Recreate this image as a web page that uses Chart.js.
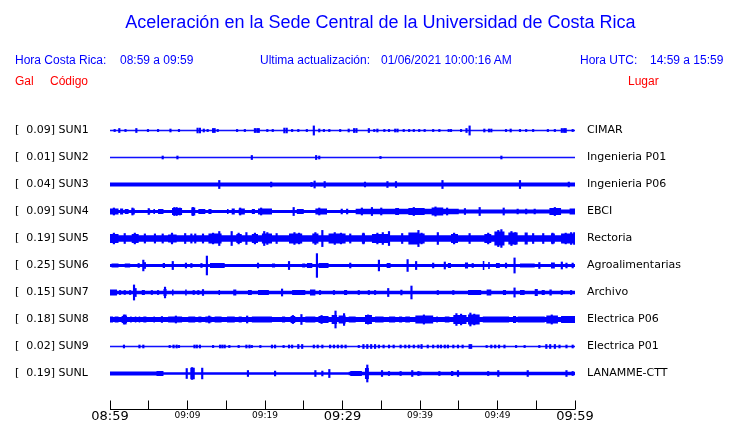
<!DOCTYPE html>
<html><head><meta charset="utf-8">
<script src="https://cdn.jsdelivr.net/npm/chart.js@4"></script>
<style>
html,body{margin:0;padding:0;background:#fff;}
#wrap{position:relative;width:740px;height:423px;overflow:hidden;background:#fff;}
#c{position:absolute;left:0;top:0;}
.t{position:absolute;font-family:"Liberation Sans",Arial,sans-serif;font-size:12px;line-height:14px;white-space:pre;color:#0000ff;}
.r{color:#ff0000;}
#title{font-size:18px;line-height:20px;left:0;width:761px;text-align:center;top:12px;}
</style></head>
<body><div id="wrap"><canvas id="c" width="740" height="423"></canvas>
<div class="t" id="title">Aceleración en la Sede Central de la Universidad de Costa Rica</div>
<div class="t" style="left:15px;top:53px">Hora Costa Rica:</div>
<div class="t" style="left:120px;top:53px">08:59 a 09:59</div>
<div class="t" style="left:260px;top:53px">Ultima actualización:</div>
<div class="t" style="left:381px;top:53px">01/06/2021 10:00:16 AM</div>
<div class="t" style="left:580px;top:53px">Hora UTC:</div>
<div class="t" style="left:650px;top:53px">14:59 a 15:59</div>
<div class="t r" style="left:15px;top:74px">Gal</div>
<div class="t r" style="left:50px;top:74px">Código</div>
<div class="t r" style="left:628px;top:74px">Lugar</div>
</div>
<script>
// ---- data (minutes after 08:59; amplitudes in trace-row units) ----
const codes  = ['SUN1','SUN2','SUN3','SUN4','SUN5','SUN6','SUN7','SUN8','SUN9','SUNL'];
const peaks  = [0.09, 0.01, 0.04, 0.09, 0.19, 0.25, 0.15, 0.18, 0.02, 0.19];
const places = ['CIMAR','Ingenieria P01','Ingenieria P06','EBCI','Rectoria','Agroalimentarias','Archivo','Electrica P06','Electrica P01','LANAMME-CTT'];
const tickLabels = ['08:59','','09:09','','09:19','','09:29','','09:39','','09:49','','09:59'];
const baseAmp = [0.025, 0.025, 0.07, 0.056, 0.12, 0.055, 0.063, 0.094, 0.025, 0.045];

const segsSUN1 = [];
const segsSUN2 = [];
const segsSUN3 = [];
const segsSUN4 = [[0,1.1,.11],[1.3,1.7,.11],[1.9,2.4,.09],[2.8,3.2,.11],[4.9,5.2,.075],[5.6,5.8,.09],[6.2,6.9,.09],[8.0,9.3,.13],[10.5,11.0,.15],[11.4,12.3,.09],[12.7,13.1,.09],[15.1,15.3,.09],[15.7,16.1,.11],[16.6,17.4,.11],[18.3,18.7,.09],[19.1,20.9,.11],[24.1,25.0,.09],[26.5,28.0,.11],[31.7,45,.1],[36.8,37.3,.13],[38.5,40.6,.13],[41.5,43.0,.15],[45,60,.075],[56.7,58.2,.13],[59.3,60,.11]];
const segsSUN5 = [[0,1.1,.17],[2.8,3.7,.17],[7.5,8.6,.15],[12.7,14.4,.185],[16.3,17.0,.17],[18.3,19.1,.17],[19.6,20.9,.185],[23.1,24.8,.185],[26.1,26.9,.185],[28.2,30.4,.185],[32.5,32.9,.185],[33.8,36.0,.17],[38.5,39.8,.22],[39.7,40.6,.185],[44.0,44.9,.17],[48.3,49.2,.17],[49.6,50.9,.26],[51.4,52.6,.22],[53.5,53.9,.22],[56.9,57.4,.185],[58.2,60,.185]];
const segsSUN6 = [[0.2,1.1,.075],[1.9,2.6,.075],[6.8,7.1,.09],[12.9,14.8,.09],[20.9,21.3,.075],[24.8,25.2,.075],[25.4,26.1,.09],[26.9,28.2,.09],[35.7,36.2,.09],[43.6,44.0,.09],[45.8,46.2,.11],[48.1,48.3,.17],[48.8,49.0,.13],[49.8,50.3,.09],[52.9,54.8,.075],[56.9,57.4,.11]];
const segsSUN7 = [[0,0.9,.11],[4.1,4.5,.09],[6.9,7.3,.13],[8.0,8.2,.11],[9.7,9.9,.11],[14.0,14.2,.09],[15.9,16.3,.11],[17.8,18.3,.09],[19.1,20.5,.09],[23.5,25.2,.09],[25.8,26.5,.11],[30.2,30.6,.09],[46.2,47.9,.09],[48.6,49.2,.11],[50.7,51.1,.09],[52.9,53.5,.09],[54.8,55.2,.13],[55.7,56.1,.09],[56.7,57.0,.11]];
const segsSUN8 = [[0,0.4,.11],[0.6,1.1,.11],[1.5,2.2,.13],[2.6,2.8,.11],[3.2,3.4,.11],[3.7,3.9,.11],[4.3,4.7,.11],[5.6,5.8,.11],[7.5,9.3,.11],[10.1,11.0,.11],[11.4,11.8,.11],[12.3,13.1,.11],[13.5,14.4,.11],[15.1,16.1,.11],[16.6,17.0,.11],[17.6,17.8,.13],[18.3,20.9,.11],[22.2,22.6,.11],[23.3,23.9,.13],[25.2,26.5,.11],[26.9,28.2,.13],[28.6,29.3,.17],[29.5,30.4,.15],[30.8,31.7,.11],[32.9,33.8,.17],[34.2,35.3,.11],[36.0,36.8,.11],[37.3,37.7,.11],[38.1,38.7,.11],[39.4,41.7,.15],[42.1,42.3,.11],[43.2,43.8,.11],[44.3,46.0,.17],[46.2,47.7,.185],[48.1,51.5,.11],[52.0,52.4,.13],[52.6,56.1,.11],[56.3,57.8,.15],[58.2,60,.13]];
const segsSUN9 = [];
const segsSUNL = [[0,6.0,.075],[6.0,6.9,.09],[30.8,60,.065],[31.0,32.5,.09],[32.9,33.4,.2],[39.7,40.2,.075],[44.0,44.3,.09]];

const spikesSUN1 = [[0.6,.04],[1.2,.075],[2.0,.04],[3.4,.075],[4.9,.04],[6.2,.04],[7.8,.055],[8.9,.04],[11.3,.09],[11.6,.09],[12.1,.055],[12.6,.04],[13.3,.075],[13.5,.075],[13.9,.04],[16.4,.04],[17.4,.04],[18.7,.075],[19.0,.075],[19.2,.075],[20.3,.04],[21.0,.04],[22.5,.09],[22.8,.09],[23.5,.04],[24.3,.04],[25.4,.04],[26.3,.17],[27.0,.055],[27.6,.04],[28.3,.04],[29.7,.04],[30.8,.055],[31.5,.075],[31.8,.075],[33.4,.075],[34.1,.04],[34.5,.055],[35.4,.04],[36.0,.04],[36.8,.055],[37.1,.055],[37.9,.04],[38.6,.04],[39.2,.04],[39.9,.04],[40.6,.04],[41.7,.04],[42.5,.04],[43.7,.04],[44.0,.04],[45.3,.04],[46.0,.075],[46.4,.17],[48.3,.055],[48.9,.055],[49.2,.055],[51.1,.04],[51.7,.055],[52.9,.04],[53.7,.04],[54.6,.04],[56.5,.04],[57.4,.04],[58.3,.075],[58.6,.075],[58.8,.075],[59.7,.04]];
const spikesSUN2 = [[6.8,.055],[8.7,.055],[18.3,.075],[26.6,.075],[27.0,.055],[34.9,.04],[50.5,.055]];
const spikesSUN3 = [[14.1,.15],[20.8,.09],[26.0,.075],[26.4,.13],[27.7,.11],[32.9,.09],[35.8,.11],[36.9,.11],[42.9,.15],[52.9,.15],[59.2,.09]];
const spikesSUN4 = [[0.5,.13],[2.9,.13],[5.0,.11],[8.3,.15],[8.6,.15],[9.0,.13],[10.7,.15],[16.8,.13],[19.5,.13],[23.7,.15],[27.0,.13],[29.9,.09],[30.6,.09],[32.5,.13],[33.8,.15],[35.0,.13],[39.2,.15],[42.0,.17],[43.5,.13],[45.8,.11],[47.7,.15],[50.8,.13],[52.6,.09],[53.7,.09],[54.8,.09],[57.4,.15]];
const spikesSUN5 = [[0.5,.2],[1.9,.185],[3.2,.2],[4.5,.17],[5.8,.17],[6.8,.17],[8.0,.2],[9.7,.185],[10.5,.17],[11.0,.17],[12.0,.17],[13.3,.2],[14.1,.26],[15.7,.26],[16.6,.2],[17.6,.22],[18.7,.2],[19.9,.26],[20.3,.22],[21.5,.185],[23.8,.22],[24.4,.2],[26.5,.22],[27.4,.3],[29.0,.22],[29.8,.2],[31.0,.17],[32.7,.2],[34.5,.2],[35.2,.22],[36.0,.26],[37.7,.185],[39.8,.3],[40.2,.2],[42.3,.22],[44.4,.2],[46.4,.185],[48.8,.2],[50.1,.3],[50.5,.33],[51.8,.26],[52.3,.22],[54.6,.185],[55.9,.185],[57.1,.2],[58.8,.2],[59.5,.22],[59.9,.22]];
const spikesSUN6 = [[3.7,.075],[4.3,.2],[4.5,.11],[8.1,.15],[9.8,.09],[10.5,.075],[11.8,.075],[12.5,.35],[19.1,.09],[23.1,.15],[26.7,.44],[31.0,.09],[34.7,.2],[38.4,.22],[39.5,.15],[41.7,.09],[43.2,.13],[46.8,.075],[51.1,.09],[52.2,.28],[55.4,.11],[58.3,.13],[58.9,.09],[59.7,.09]];
const spikesSUN7 = [[1.3,.075],[1.9,.075],[2.6,.075],[3.1,.28],[3.3,.15],[5.4,.075],[6.2,.075],[7.1,.2],[10.8,.075],[11.4,.075],[12.0,.11],[22.2,.13],[27.1,.075],[28.9,.075],[32.1,.075],[33.4,.075],[34.2,.075],[35.9,.15],[37.6,.09],[38.9,.24],[42.3,.075],[44.3,.075],[52.2,.17],[58.3,.075],[59.5,.075]];
const spikesSUN8 = [[1.8,.17],[2.0,.17],[6.7,.11],[8.5,.13],[12.8,.13],[17.7,.13],[23.6,.15],[24.7,.185],[27.3,.15],[29.1,.315],[30.2,.22],[33.3,.17],[40.5,.17],[44.7,.22],[45.3,.2],[46.5,.24],[47.0,.2],[57.0,.17]];
const spikesSUN9 = [[1.8,.055],[3.8,.055],[4.3,.055],[7.7,.04],[8.2,.055],[8.6,.055],[8.9,.04],[10.9,.055],[11.2,.055],[11.6,.055],[13.3,.04],[14.2,.055],[14.5,.055],[14.8,.055],[15.4,.04],[16.6,.04],[17.6,.055],[18.0,.055],[18.3,.04],[19.4,.04],[20.9,.055],[21.3,.055],[22.4,.04],[23.1,.055],[23.5,.055],[24.3,.075],[24.8,.075],[26.3,.055],[26.8,.055],[27.4,.055],[28.4,.055],[28.9,.055],[29.4,.055],[29.9,.055],[30.4,.055],[32.1,.04],[32.7,.075],[33.2,.075],[33.7,.075],[34.2,.075],[34.7,.055],[35.3,.055],[36.0,.055],[36.6,.055],[37.5,.055],[38.1,.055],[38.6,.055],[39.2,.055],[39.8,.055],[40.2,.075],[41.0,.055],[41.7,.055],[42.3,.055],[42.7,.055],[43.2,.055],[43.6,.055],[44.3,.055],[44.9,.055],[45.5,.055],[46.4,.075],[46.6,.075],[48.6,.04],[49.2,.055],[49.7,.055],[50.2,.055],[50.9,.055],[52.4,.04],[53.5,.04],[55.4,.04],[56.3,.075],[56.8,.075],[57.4,.075],[58.0,.055],[58.9,.055],[59.7,.055]];
const spikesSUNL = [[9.9,.185],[10.5,.2],[10.6,.22],[10.8,.2],[11.9,.2],[17.8,.11],[21.3,.09],[26.5,.11],[27.4,.09],[28.3,.15],[33.2,.315],[35.1,.11],[36.0,.075],[37.5,.075],[39.0,.11],[39.8,.075],[42.5,.075],[44.9,.11],[48.8,.075],[50.1,.11],[53.9,.11],[58.9,.11],[59.7,.075]];

const segs   = [segsSUN1,segsSUN2,segsSUN3,segsSUN4,segsSUN5,segsSUN6,segsSUN7,segsSUN8,segsSUN9,segsSUNL];
const spikes = [spikesSUN1,spikesSUN2,spikesSUN3,spikesSUN4,spikesSUN5,spikesSUN6,spikesSUN7,spikesSUN8,spikesSUN9,spikesSUNL];

// ---- build datasets ----
const BLUE = '#0000ff';
const datasets = [];
codes.forEach((code, i) => {
  const bp = new Set([0, 60]);
  segs[i].forEach(s => { bp.add(s[0]); bp.add(s[1]); });
  const b = [...bp].sort((p, q) => p - q);
  const up = [], lo = [];
  for (let k = 0; k < b.length - 1; k++) {
    const mid = (b[k] + b[k + 1]) / 2;
    let a = baseAmp[i];
    segs[i].forEach(s => { if (mid >= s[0] && mid <= s[1]) a = Math.max(a, s[2]); });
    up.push({x: b[k], y: i - a}, {x: b[k + 1], y: i - a});
    lo.push({x: b[k], y: i + a}, {x: b[k + 1], y: i + a});
  }
  // upper half fills down past the centre, lower half fills up past it (overlap avoids a seam)
  const ov = baseAmp[i] * 0.5;
  [[up, i + ov], [lo, i - ov]].forEach(([d, tgt]) => datasets.push({
    type: 'line', data: d, fill: {value: tgt}, backgroundColor: BLUE,
    borderColor: 'rgba(0,0,0,0)', borderWidth: 0, pointRadius: 0, tension: 0
  }));
});
const spikeData = [];
spikes.forEach((list, i) => list.forEach(([m, a]) => spikeData.push({x: m, y: [i - a, i + a]})));
datasets.push({type: 'bar', data: spikeData, backgroundColor: BLUE, borderWidth: 0, barThickness: 1.5, grouped: false});

const axisPlugin = {
  id: 'timeAxis',
  afterDraw(chart) {
    const sx = chart.scales.x, ctx = chart.ctx, yb = chart.chartArea.bottom;
    ctx.save();
    ctx.strokeStyle = '#000'; ctx.lineWidth = 1;
    ctx.beginPath();
    ctx.moveTo(sx.left, yb + 0.5); ctx.lineTo(sx.right, yb + 0.5);
    sx.ticks.forEach(t => {
      const p = Math.floor(sx.getPixelForValue(t.value)) + 0.5;
      ctx.moveTo(p, yb + 0.5); ctx.lineTo(p, yb - 8.5);
    });
    ctx.stroke();
    ctx.restore();
  }
};

const rowTicks = (axis) => { axis.ticks = codes.map((_, i) => ({value: i})); };
const yRange = {min: -0.5, max: -0.5 + 292 / 27};

new Chart(document.getElementById('c'), {
  type: 'bar',
  data: {datasets},
  plugins: [axisPlugin],
  options: {
    responsive: false, animation: false, devicePixelRatio: 1,
    layout: {padding: {top: 117, left: 15, right: 0, bottom: 0}},
    plugins: {legend: {display: false}, tooltip: {enabled: false}},
    scales: {
      x: {
        type: 'linear', min: 0, max: 60, offset: false,
        grid: {display: false, drawTicks: false}, border: {display: false},
        afterFit: (a) => { a.height = 14; },
        ticks: {
          stepSize: 5, autoSkip: false, maxRotation: 0, padding: 0, color: '#000',
          callback: (v, idx) => tickLabels[idx],
          font: (ctx) => (ctx.index % 6 === 0)
            ? {family: 'DejaVu Sans', size: 13, lineHeight: 1.1}
            : {family: 'DejaVu Sans', size: 9, lineHeight: 1.4}
        }
      },
      y: {
        type: 'linear', position: 'left', reverse: true, ...yRange,
        grid: {display: false, drawTicks: false}, border: {display: false},
        afterBuildTicks: rowTicks,
        afterFit: (a) => { a.width = 95; },
        ticks: {
          crossAlign: 'far', padding: 0, color: '#000', autoSkip: false,
          font: {family: 'DejaVu Sans', size: 11},
          callback: (v, idx) => '[  ' + peaks[idx].toFixed(2) + '] ' + codes[idx]
        }
      },
      y2: {
        type: 'linear', position: 'right', reverse: true, ...yRange,
        grid: {display: false, drawTicks: true, tickLength: 12}, border: {display: false},
        afterBuildTicks: rowTicks,
        afterFit: (a) => { a.width = 165; },
        ticks: {
          crossAlign: 'near', padding: 0, color: '#000', autoSkip: false,
          font: {family: 'DejaVu Sans', size: 11},
          callback: (v, idx) => places[idx]
        }
      }
    }
  }
});
</script>
</body></html>
